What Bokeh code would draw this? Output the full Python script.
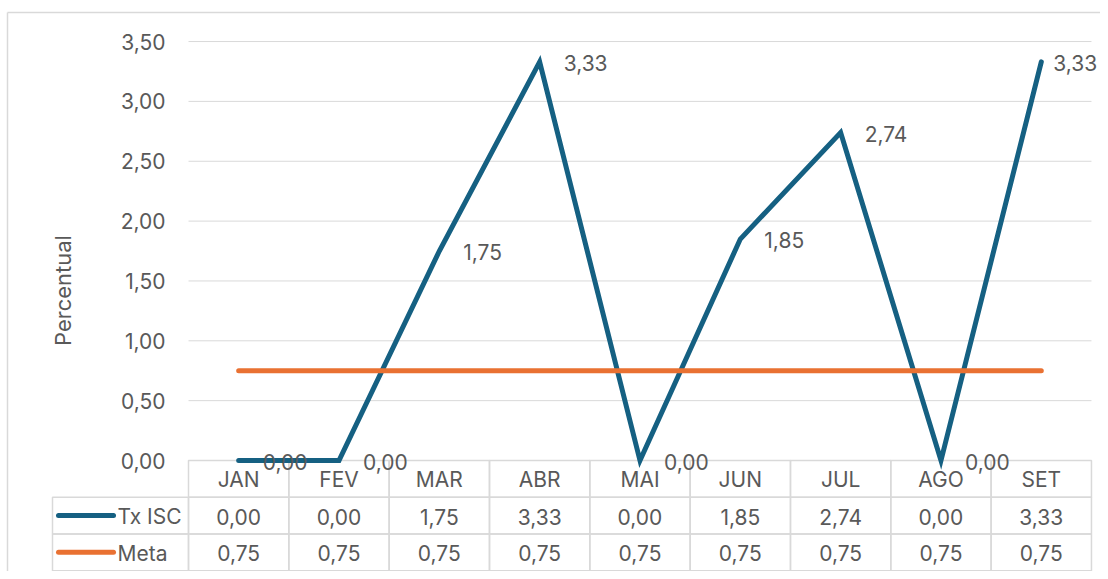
import numpy as np
from bokeh.plotting import figure
from bokeh.models import Range1d, ColumnDataSource
from bokeh.core.properties import value
from bokeh.embed import file_html
from bokeh.resources import INLINE

# ---------------- data ----------------
months = ["JAN", "FEV", "MAR", "ABR", "MAI", "JUN", "JUL", "AGO", "SET"]
tx_isc = [0.00, 0.00, 1.75, 3.33, 0.00, 1.85, 2.74, 0.00, 3.33]
meta = [0.75, 0.75, 0.75, 0.75, 0.75, 0.75, 0.75, 0.75, 0.75]
series_names = ["Tx ISC", "Meta"]
y_ticks = [0.0, 0.5, 1.0, 1.5, 2.0, 2.5, 3.0, 3.5]
y_tick_labels = ["0,00", "0,50", "1,00", "1,50", "2,00", "2,50", "3,00", "3,50"]
y_axis_title = "Percentual"

# ---------------- style / layout ----------------
FONT = "Inter"
FS = "21px"
TXT = "#595959"
GRID = "#d9d9d9"
BLUE = "#156082"
ORANGE = "#E97132"
W, H = 1100, 571
PX_X = 100.33        # pixels per category
PX_Y = 119.7         # pixels per y unit
X0_PX, Y0_PX = 188, 460   # pixel position of plot-area left edge / value 0
ROW = 0.307          # data-table row height (y units)


def fmt(v):
    return f"{v:.2f}".replace(".", ",")


x_pos = list(range(len(months)))
xr = Range1d((0 - X0_PX) / PX_X - 0.5, (W - X0_PX) / PX_X - 0.5)
yr = Range1d((Y0_PX - H) / PX_Y, Y0_PX / PX_Y)

p = figure(width=W, height=H, x_range=xr, y_range=yr,
           min_border=0, output_backend="svg", toolbar_location=None)
p.outline_line_color = None
p.background_fill_color = "white"
p.border_fill_color = "white"
p.axis.visible = False
p.grid.visible = False

XL, XR = -0.5, len(months) - 0.5   # plot-area edges in data units

# chart border (left + top)
bx = (7 - X0_PX) / PX_X - 0.5
by = (Y0_PX - 12) / PX_Y
p.segment(x0=[bx, bx], x1=[xr.end + 1, bx], y0=[by, by], y1=[by, yr.start - 1],
          line_color=GRID, line_width=1.5)

# horizontal gridlines + y tick labels
p.segment(x0=[XL] * len(y_ticks), x1=[XR] * len(y_ticks), y0=y_ticks, y1=y_ticks,
          line_color=GRID, line_width=1)
p.text(x=[XL] * len(y_ticks), y=y_ticks, text=y_tick_labels, x_offset=-23,
       text_align="right", text_baseline="middle",
       text_font=value(FONT), text_font_size=FS, text_color=TXT)

# y axis title
p.text(x=[(62 - X0_PX) / PX_X - 0.5], y=[1.42], text=[y_axis_title], angle=np.pi / 2,
       text_align="center", text_baseline="middle",
       text_font=value(FONT), text_font_size="22px", text_color=TXT)

# ---------------- data table (grid first, so series lie on top) ----------------
rows = [months, [fmt(v) for v in tx_isc], [fmt(v) for v in meta]]
for r in range(len(rows)):
    yc = -(r + 0.5) * ROW
    p.rect(x=x_pos, y=[yc] * len(x_pos), width=1, height=ROW,
           fill_color=None, line_color=GRID, line_width=1.5)

LX0 = (52 - X0_PX) / PX_X - 0.5
LX1 = XL
sw0 = (58 - X0_PX) / PX_X - 0.5
sw1 = (113 - X0_PX) / PX_X - 0.5
tx0 = (117 - X0_PX) / PX_X - 0.5
for r, (name, col) in enumerate(zip(series_names, [BLUE, ORANGE]), start=1):
    yc = -(r + 0.5) * ROW
    p.rect(x=[(LX0 + LX1) / 2], y=[yc], width=LX1 - LX0, height=ROW,
           fill_color=None, line_color=GRID, line_width=1.5)
    p.segment(x0=[sw0], x1=[sw1], y0=[yc], y1=[yc], line_color=col,
              line_width=5, line_cap="round")
    p.text(x=[tx0], y=[yc], text=[name], y_offset=1, text_align="left",
           text_baseline="middle", text_font=value(FONT), text_font_size=FS,
           text_color=TXT)

for r, texts in enumerate(rows):
    yc = -(r + 0.5) * ROW
    p.text(x=x_pos, y=[yc] * len(x_pos), text=texts, y_offset=1,
           text_align="center", text_baseline="middle",
           text_font=value(FONT), text_font_size=FS, text_color=TXT)

# ---------------- series ----------------
p.line(x_pos, tx_isc, line_color=BLUE, line_width=5, line_cap="round",
       line_join="miter")
p.line(x_pos, meta, line_color=ORANGE, line_width=5, line_cap="round")

# data labels (last one nudged so it stays inside the page)
lab_dx = [24] * (len(x_pos) - 1) + [12]
lab_src = ColumnDataSource(dict(x=x_pos, y=tx_isc, t=[fmt(v) for v in tx_isc],
                                dx=lab_dx))
p.text(x="x", y="y", text="t", x_offset="dx", y_offset=1, source=lab_src,
       text_align="left", text_baseline="middle",
       text_font=value(FONT), text_font_size=FS, text_color=TXT)

open("out.html", "w").write(file_html(p, INLINE))
